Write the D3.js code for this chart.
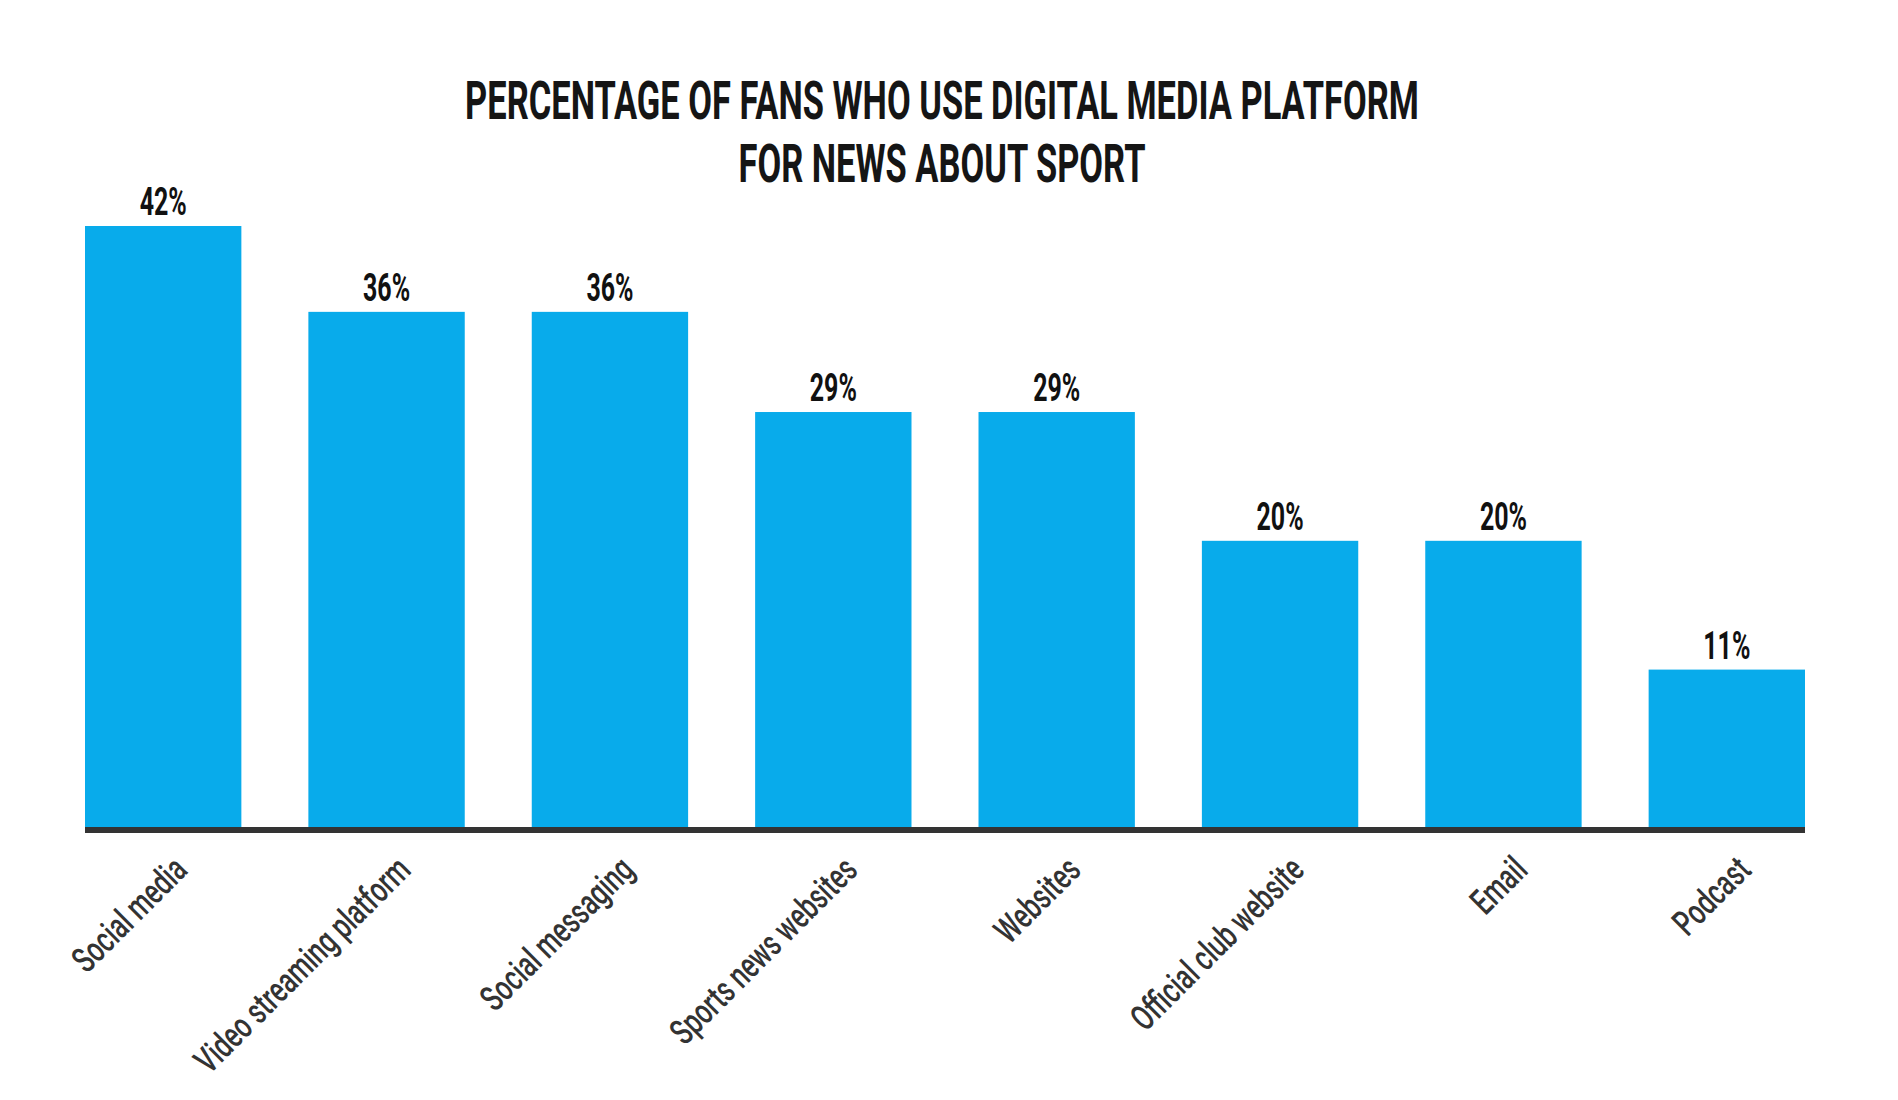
<!DOCTYPE html>
<html><head><meta charset="utf-8">
<script src="https://cdn.jsdelivr.net/npm/d3@7"></script>
<style>body{margin:0;background:#fff}</style>
</head><body><svg id="chart" width="1898" height="1100"></svg>
<script>
const categories = ["Social media","Video streaming platform","Social messaging","Sports news websites","Websites","Official club website","Email","Podcast"];
const values = [42,36,36,29,29,20,20,11];
const valueLabels = ["42%","36%","36%","29%","29%","20%","20%","11%"];
const titleLines = ["PERCENTAGE OF FANS WHO USE DIGITAL MEDIA PLATFORM","FOR NEWS ABOUT SPORT"];

const data = categories.map((c,i)=>({cat:c, value:values[i], label:valueLabels[i]}));

const svg = d3.select("#chart");
const x = d3.scaleBand().domain(categories).range([85,1805]).paddingInner(0.3).paddingOuter(0);
const y = d3.scaleLinear().domain([0,42]).range([827,226]);

// Title
const title = svg.append("g").attr("transform","translate(942,0) scale(0.65,1)");
title.selectAll("text").data(titleLines).join("text")
  .attr("x",0).attr("y",(d,i)=>119+i*63.5)
  .attr("text-anchor","middle")
  .style("font-family","Roboto, sans-serif").style("font-weight",700)
  .style("font-size","53px").style("fill","#151515")
  .text(d=>d);

// Bars
svg.append("g").selectAll("rect").data(data).join("rect")
  .attr("x",d=>x(d.cat)).attr("width",x.bandwidth())
  .attr("y",d=>y(d.value)).attr("height",d=>y(0)-y(d.value))
  .attr("fill","#08abeb");

// Axis baseline
svg.append("rect")
  .attr("x",x.range()[0]).attr("width",x.range()[1]-x.range()[0])
  .attr("y",y(0)).attr("height",6).attr("fill","#333");

// Value labels
svg.append("g").selectAll("text").data(data).join("text")
  .attr("transform",d=>"translate("+(x(d.cat)+x.bandwidth()/2)+","+(y(d.value)-11)+") scale(0.64,1)")
  .attr("text-anchor","middle")
  .style("font-family","Roboto, sans-serif").style("font-weight",700)
  .style("font-size","39px").style("fill","#111")
  .text(d=>d.label);

// Category labels
svg.append("g").selectAll("text").data(data).join("text")
  .attr("transform",d=>"translate("+(x(d.cat)+x.bandwidth()/2+26)+",872) rotate(-45) scale(0.7,1)")
  .attr("text-anchor","end")
  .style("font-family","Roboto, sans-serif").style("font-weight",500)
  .style("font-size","36px").style("fill","#333")
  .text(d=>d.cat);
</script>
</body></html>
